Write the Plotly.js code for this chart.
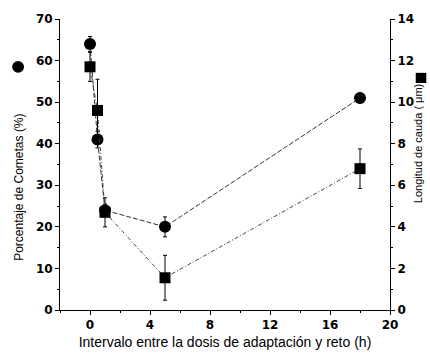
<!DOCTYPE html>
<html>
<head>
<meta charset="utf-8">
<script src="https://cdn.plot.ly/plotly-3.0.1.min.js"></script>
<style>html,body{margin:0;padding:0;background:#fff;}#chart{width:430px;height:356px;}</style>
</head>
<body>
<div id="chart"></div>
<script>
// Data
const hours = [0, 0.5, 1, 5, 18];
const cometPct = [64, 41, 24, 20, 51];          // left axis, circles
const cometErr = [1.8, 2.0, 1.5, 2.4, 1.2];
const tailLen = [11.7, 9.6, 4.7, 1.55, 6.8];   // right axis (µm), squares
const tailErr = [0.7, 1.5, 0.7, 1.08, 0.95];
const xTicks = [0, 4, 8, 12, 16, 20];
const yLeftTicks = [0, 10, 20, 30, 40, 50, 60, 70];
const yRightTicks = [0, 2, 4, 6, 8, 10, 12, 14];

const bold = arr => arr.map(v => '<b>' + v + '</b>');

const FONT = "'Liberation Sans Narrow', 'Liberation Sans', Arial, sans-serif";
const TICKFONT = {family: "'DejaVu Sans', sans-serif", size: 12, color: '#000'};

const traces = [
  {
    x: hours, y: cometPct, type: 'scatter', mode: 'lines+markers', yaxis: 'y',
    line: {color: '#333', width: 1, dash: '5px,2px'},
    marker: {symbol: 'circle', size: 12, color: '#000'},
    error_y: {type: 'data', array: cometErr, visible: true, color: '#000', thickness: 1, width: 2},
    showlegend: false, cliponaxis: false
  },
  {
    x: hours, y: tailLen, type: 'scatter', mode: 'lines+markers', yaxis: 'y2',
    line: {color: '#444', width: 1, dash: '4px,2px,1px,2px'},
    marker: {symbol: 'square', size: 11, color: '#000'},
    error_y: {type: 'data', array: tailErr, visible: true, color: '#000', thickness: 1, width: 2},
    showlegend: false, cliponaxis: false
  }
];

const layout = {
  width: 430, height: 356,
  margin: {l: 60, r: 40, t: 19, b: 46},
  paper_bgcolor: '#fff', plot_bgcolor: '#fff',
  font: {family: FONT, color: '#000'},
  xaxis: {
    range: [-2, 20], tickvals: xTicks, ticktext: bold(xTicks), ticks: 'outside', ticklen: 4, tickcolor: '#000',
    showline: true, linecolor: '#000', linewidth: 1, showgrid: false, zeroline: false,
    tickfont: TICKFONT,
    minor: {dtick: 2, tick0: 0, ticks: 'outside', ticklen: 2, tickcolor: '#000'},
    title: {text: 'Intervalo entre la dosis de adaptación y reto (h)', font: {family: FONT, size: 14, color: '#000'}, standoff: 5}
  },
  yaxis: {
    range: [0, 70], tickvals: yLeftTicks, ticktext: bold(yLeftTicks), ticks: 'outside', ticklen: 4, tickcolor: '#000',
    showline: true, linecolor: '#000', linewidth: 1, showgrid: false, zeroline: false,
    tickfont: TICKFONT,
    minor: {dtick: 5, tick0: 0, ticks: 'outside', ticklen: 2, tickcolor: '#000'}
  },
  yaxis2: {
    range: [0, 14], tickvals: yRightTicks, ticktext: bold(yRightTicks), overlaying: 'y', side: 'right',
    ticks: 'outside', ticklen: 4, tickcolor: '#000',
    showline: true, linecolor: '#000', linewidth: 1, showgrid: false, zeroline: false,
    tickfont: TICKFONT,
    minor: {dtick: 1, tick0: 0, ticks: 'outside', ticklen: 2, tickcolor: '#000'}
  },
  annotations: [
    {text: 'Porcentaje de Cometas (%)', textangle: -90, xref: 'paper', yref: 'paper',
     x: -0.124, y: 0.42, xanchor: 'center', yanchor: 'middle', showarrow: false,
     font: {family: FONT, size: 12, color: '#000'}},
    {text: 'Longitud de cauda ( μm)', textangle: -90, xref: 'paper', yref: 'paper',
     x: 1.085, y: 0.57, xanchor: 'center', yanchor: 'middle', showarrow: false,
     font: {family: FONT, size: 11, color: '#000'}}
  ],
  shapes: [
    {type: 'circle', xref: 'paper', yref: 'paper', x0: -0.145, x1: -0.109, y0: 0.815, y1: 0.856, fillcolor: '#000', line: {width: 0}},
    {type: 'rect', xref: 'paper', yref: 'paper', x0: 1.078, x1: 1.11, y0: 0.78, y1: 0.815, fillcolor: '#000', line: {width: 0}}
  ]
};

Plotly.newPlot('chart', traces, layout, {staticPlot: true});
</script>
</body>
</html>
